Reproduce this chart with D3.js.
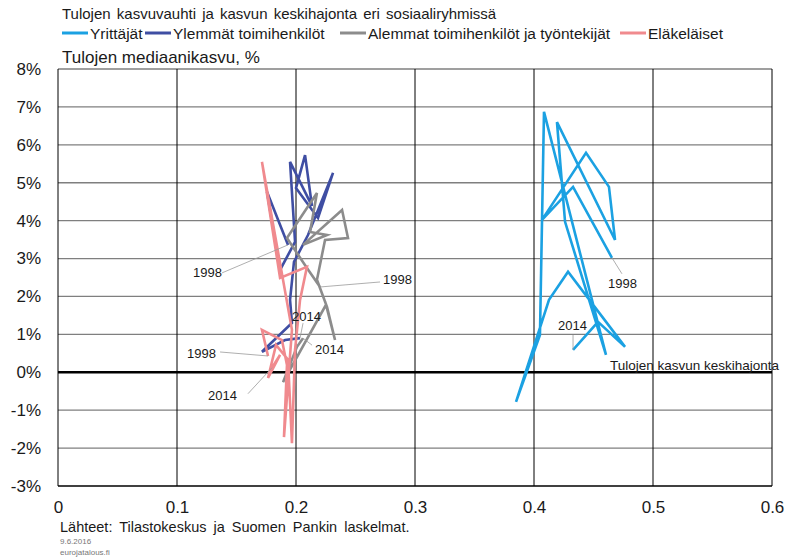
<!DOCTYPE html>
<html>
<head>
<meta charset="utf-8">
<script src="https://cdn.jsdelivr.net/npm/d3@7"></script>
<style>
  body { margin: 0; background: #fff; }
  text { font-family: "Liberation Sans", Arial, sans-serif; fill: #1a1a1a; }
</style>
</head>
<body>
<div id="chart"></div>
<script>
var width = 786,
    height = 559;
var margin = {top: 69, left: 58, bottom: 73, right: 14};

// data: x = keskihajonta, y = mediaanikasvu (%), years 1998..2014
var years = d3.range(1998, 2015);
var seriesNames = ["Yrittäjät", "Ylemmät toimihenkilöt", "Alemmat toimihenkilöt ja työntekijät", "Eläkeläiset"];
var seriesColors = ["#1ba1e2", "#3f4ea3", "#8c8c8c", "#f08a8e"];

var yrittajatX = [0.4655, 0.4328, 0.4067, 0.4437, 0.4630, 0.4681, 0.4193, 0.4261, 0.4605, 0.4084, 0.4050, 0.3849, 0.4126, 0.4286, 0.4765, 0.4538, 0.4328];
var yrittajatY = [3.02, 4.89, 4.02, 5.79, 4.89, 3.49, 6.60, 3.97, 0.46, 6.87, 0.98, -0.78, 1.91, 2.65, 0.67, 1.33, 0.59];

var ylemmatX = [0.1933, 0.1756, 0.1866, 0.1992, 0.1950, 0.2134, 0.2076, 0.2000, 0.2185, 0.2311, 0.2101, 0.1983, 0.1950, 0.1966, 0.1714, 0.1908, 0.2034];
var ylemmatY = [3.36, 4.76, 2.70, 3.44, 5.55, 4.39, 5.73, 4.86, 4.07, 5.26, 3.62, 2.91, 1.91, 1.30, 0.54, 0.85, 0.90];

var alemmatX = [0.2202, 0.2092, 0.1924, 0.2176, 0.2118, 0.2261, 0.2059, 0.2387, 0.2437, 0.2244, 0.2176, 0.2261, 0.2328, 0.2252, 0.1891, 0.2008, 0.2059];
var alemmatY = [2.25, 2.75, 3.54, 4.73, 3.70, 3.62, 3.36, 4.28, 3.54, 3.49, 2.44, 1.72, 0.85, 1.78, -0.26, 0.67, 0.90];

var elakeX = [0.1765, 0.1714, 0.1882, 0.1924, 0.1899, 0.1966, 0.1714, 0.1866, 0.2092, 0.2034, 0.1992, 0.1966, 0.1933, 0.1832, 0.1765, 0.1866, 0.1798];
var elakeY = [0.43, 1.12, 0.85, 0.19, -1.71, 1.12, 5.55, 2.49, 2.78, 1.91, 0.59, -1.87, 0.33, 0.72, -0.15, 0.46, 0.12];

var xTicks = [0, 0.1, 0.2, 0.3, 0.4, 0.5, 0.6];
var yTicks = d3.range(-3, 9);

// year labels: series index, point index, label text
var yearLabels = [
  {s: 0, i: 0, text: "1998", dx: -4, dy: 30, lx: 10, ly: 16},
  {s: 0, i: 16, text: "2014", dx: -15, dy: -20, lx: 0, ly: -15},
  {s: 1, i: 0, text: "1998", dx: -95, dy: 32, lx: -66, ly: 28},
  {s: 2, i: 0, text: "1998", dx: 63, dy: -3, lx: 60, ly: -5},
  {s: 3, i: 0, text: "1998", dx: -81, dy: 2, lx: -48, ly: -4},
  {s: 1, i: 16, text: "2014", dx: -8, dy: -17, lx: 3, ly: -15},
  {s: 2, i: 16, text: "2014", dx: 12, dy: 16, lx: 9, ly: 7},
  {s: 3, i: 16, text: "2014", dx: -64, dy: 32, lx: -24, ly: 26}
];

var allX = [yrittajatX, ylemmatX, alemmatX, elakeX];
var allY = [yrittajatY, ylemmatY, alemmatY, elakeY];
var series = seriesNames.map(function(name, k) {
  return {
    name: name,
    color: seriesColors[k],
    values: years.map(function(yr, i) { return {year: yr, x: allX[k][i], y: allY[k][i]}; })
  };
});

var x = d3.scaleLinear().domain([0, 0.6]).range([margin.left, width - margin.right]);
var y = d3.scaleLinear().domain([-3, 8]).range([height - margin.bottom, margin.top]);

var svg = d3.select("#chart").append("svg")
  .attr("width", width)
  .attr("height", height);

// horizontal grid
svg.append("g")
  .selectAll("line")
  .data(yTicks)
  .enter().append("line")
  .attr("x1", x(0)).attr("x2", x(0.6))
  .attr("y1", function(d) { return y(d); })
  .attr("y2", function(d) { return y(d); })
  .attr("stroke", function(d) { return d === 0 || d === -3 ? "#000" : "#7f7f7f"; })
  .attr("stroke-width", function(d) { return d === 0 ? 2.5 : 1.3; });

// vertical grid
svg.append("g")
  .selectAll("line")
  .data(xTicks)
  .enter().append("line")
  .attr("x1", function(d) { return x(d); })
  .attr("x2", function(d) { return x(d); })
  .attr("y1", y(8)).attr("y2", y(-3))
  .attr("stroke", "#000")
  .attr("stroke-width", 1);

// axes (labels only)
var yAxis = svg.append("g")
  .attr("transform", "translate(" + (margin.left - 14) + ",0)")
  .call(d3.axisLeft(y).tickValues(yTicks).tickSize(0).tickFormat(function(d) { return d + "%"; }));
yAxis.select(".domain").remove();
yAxis.selectAll("text").attr("font-size", 17).attr("dx", 0).attr("font-family", "Liberation Sans, Arial, sans-serif");

var xAxis = svg.append("g")
  .attr("transform", "translate(0," + (height - margin.bottom + 12) + ")")
  .call(d3.axisBottom(x).tickValues(xTicks).tickSize(0).tickFormat(d3.format("")));
xAxis.select(".domain").remove();
xAxis.selectAll("text").attr("font-size", 17).attr("font-family", "Liberation Sans, Arial, sans-serif");

// lines
var line = d3.line()
  .x(function(d) { return x(d.x); })
  .y(function(d) { return y(d.y); });

svg.append("g")
  .selectAll("path")
  .data(series)
  .enter().append("path")
  .attr("d", function(d) { return line(d.values); })
  .attr("fill", "none")
  .attr("stroke", function(d) { return d.color; })
  .attr("stroke-width", 2.6)
  .attr("stroke-linejoin", "miter");

// year labels with leader lines
var lab = svg.append("g");
yearLabels.forEach(function(l) {
  var p = series[l.s].values[l.i];
  var px = x(p.x), py = y(p.y);
  lab.append("line")
    .attr("x1", px).attr("y1", py)
    .attr("x2", px + l.lx).attr("y2", py + l.ly)
    .attr("stroke", "#9a9a9a")
    .attr("stroke-width", 0.8);
  lab.append("text")
    .attr("x", px + l.dx)
    .attr("y", py + l.dy)
    .attr("font-size", 13)
    .text(l.text);
});

lab.append("text")
  .attr("x", x(0.4605) + 4)
  .attr("y", y(0.46) + 15)
  .attr("font-size", 13.5)
  .text("Tulojen kasvun keskihajonta");

// titles
svg.append("text")
  .attr("x", 62).attr("y", 19)
  .attr("font-size", 15)
  .attr("word-spacing", 2)
  .text("Tulojen kasvuvauhti ja kasvun keskihajonta eri sosiaaliryhmissä");

svg.append("text")
  .attr("x", 62).attr("y", 63)
  .attr("font-size", 17)
  .text("Tulojen mediaanikasvu, %");

// legend
var legendX = [62, 145, 340, 620];
var legend = svg.append("g")
  .selectAll("g")
  .data(series)
  .enter().append("g")
  .attr("transform", function(d, i) { return "translate(" + legendX[i] + ",33)"; });
legend.append("line")
  .attr("x1", 0).attr("x2", 26)
  .attr("stroke", function(d) { return d.color; })
  .attr("stroke-width", 3);
legend.append("text")
  .attr("x", 28).attr("y", 6)
  .attr("font-size", 15.5)
  .text(function(d) { return d.name; });

// footer
svg.append("text")
  .attr("x", 60).attr("y", 532)
  .attr("font-size", 14.5)
  .attr("word-spacing", 3)
  .text("Lähteet: Tilastokeskus ja Suomen Pankin laskelmat.");
svg.append("text")
  .attr("x", 60).attr("y", 544)
  .attr("font-size", 8)
  .style("fill", "#777")
  .text("9.6.2016");
svg.append("text")
  .attr("x", 60).attr("y", 555)
  .attr("font-size", 8)
  .style("fill", "#777")
  .text("eurojatalous.fi");
</script>
</body>
</html>
